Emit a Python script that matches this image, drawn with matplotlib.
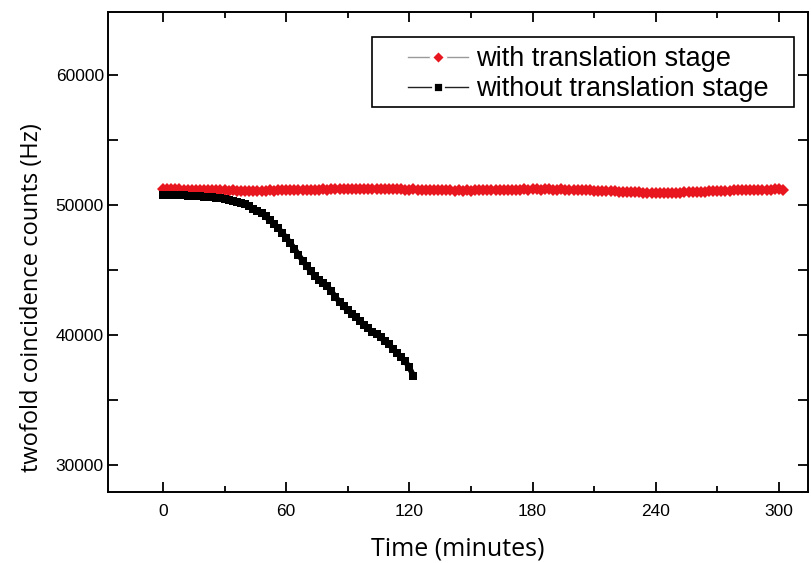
import matplotlib
matplotlib.use("Agg")
import matplotlib.pyplot as plt
from matplotlib.lines import Line2D
from matplotlib.patches import Rectangle
from matplotlib.ticker import MultipleLocator
import numpy as np

# ---- data ----
t_with = list(range(0, 304, 2))
counts_with = [
    51240, 51220, 51230, 51200, 51210, 51180, 51190, 51170, 51160, 51170,
    51150, 51140, 51150, 51130, 51120, 51130, 51110, 51120, 51100, 51110,
    51100, 51110, 51090, 51100, 51110, 51100, 51120, 51110, 51130, 51120,
    51140, 51130, 51150, 51160, 51150, 51170, 51180, 51170, 51190, 51200,
    51190, 51210, 51220, 51200, 51230, 51240, 51220, 51250, 51240, 51260,
    51250, 51240, 51260, 51230, 51240, 51220, 51230, 51200, 51210, 51190,
    51180, 51200, 51170, 51160, 51180, 51150, 51140, 51160, 51130, 51120,
    51140, 51110, 51130, 51100, 51120, 51110, 51130, 51120, 51140, 51130,
    51150, 51160, 51140, 51170, 51180, 51160, 51190, 51180, 51200, 51190,
    51210, 51200, 51190, 51210, 51200, 51190, 51180, 51200, 51190, 51170,
    51160, 51170, 51150, 51140, 51120, 51110, 51090, 51080, 51060, 51050,
    51040, 51030, 51010, 51000, 50990, 50980, 50970, 50960, 50950, 50960,
    50950, 50940, 50950, 50940, 50950, 50960, 50950, 50970, 50980, 50990,
    51000, 51010, 51020, 51040, 51050, 51070, 51080, 51090, 51110, 51120,
    51130, 51140, 51150, 51160, 51170, 51180, 51180, 51190, 51190, 51200,
    51200, 51190,
]

t_without = list(range(0, 124, 2))
counts_without = [
    50770, 50790, 50760, 50780, 50750, 50740, 50730, 50700, 50690, 50660,
    50640, 50620, 50580, 50560, 50540, 50470, 50420, 50340, 50260, 50180,
    50060, 49900, 49720, 49540, 49360, 49120, 48830, 48530, 48240, 47870,
    47480, 47080, 46640, 46180, 45720, 45320, 44920, 44540, 44220, 43980,
    43740, 43380, 42920, 42560, 42200, 41900, 41620, 41380, 41080, 40800,
    40500, 40260, 40060, 39820, 39520, 39280, 38960, 38620, 38320, 37980,
    37500, 36850,
]

x_ticks = [0, 60, 120, 180, 240, 300]
y_ticks = [30000, 40000, 50000, 60000]
label_with = "with translation stage"
label_without = "without translation stage"

RED = "#e8161e"
BLACK = "#000000"

W, H = 811, 563
fig = plt.figure(figsize=(W/100, H/100), dpi=100)
ax = fig.add_axes([108/W, 1-492/H, (808-108)/W, (492-12)/H])

ax.plot(t_with, counts_with, linestyle="-", linewidth=4.0, marker="D", markersize=6.3,
        color=RED, markeredgewidth=0, zorder=3)
ax.plot(t_without, counts_without, linestyle="-", linewidth=4.0, marker="s",
        markersize=6.0, color=BLACK, markeredgewidth=0, zorder=4)

ax.set_xlim(-26.8, 314.2)
ax.set_ylim(27920, 64850)
ax.set_xticks(x_ticks)
ax.set_yticks(y_ticks)
ax.xaxis.set_minor_locator(MultipleLocator(30))
ax.yaxis.set_minor_locator(MultipleLocator(5000))

for s in ax.spines.values():
    s.set_linewidth(1.4)

ax.tick_params(which="both", direction="in", top=True, right=True, width=1.3)
ax.tick_params(which="major", length=7)
ax.tick_params(axis="x", which="minor", length=4)
ax.tick_params(axis="y", which="minor", length=7)
ax.tick_params(axis="x", which="major", labelsize=12.5, pad=9)
ax.tick_params(axis="y", which="major", labelsize=12.5, pad=3)
for lab in ax.get_xticklabels() + ax.get_yticklabels():
    lab.set_fontfamily("Liberation Sans")

ax.set_xlabel("Time (minutes)", fontsize=18, family="Open Sans", labelpad=12)
ax.set_ylabel("twofold coincidence counts (Hz)", fontsize=17, family="Open Sans")
ax.yaxis.set_label_coords(-(108-44)/700, (492-298)/480)

handles = [
    Line2D([], [], color="#999999", linewidth=1.0, marker="D", markersize=7.5,
           markerfacecolor=RED, markeredgecolor="white", markeredgewidth=2.0),
    Line2D([], [], color="#222222", linewidth=1.0, marker="s", markersize=7.5,
           markerfacecolor=BLACK, markeredgecolor="white", markeredgewidth=2.0),
]
leg = ax.legend(handles, [label_with, label_without], loc="upper left",
                bbox_to_anchor=((408-108)/700, (492-46)/480), borderaxespad=0,
                frameon=False, handlelength=2.2,
                handletextpad=0.3, borderpad=0.0, labelspacing=0.15,
                prop={"family": "Liberation Sans", "size": 19.5})

# legend box
box = Rectangle((372/W, 1-107/H), (794-372)/W, (107-37)/H, transform=fig.transFigure,
                fill=True, facecolor="white", edgecolor="black", linewidth=1.2, zorder=5)
ax.add_patch(box)
box.set_clip_on(False)
leg.set_zorder(6)

fig.savefig("out.png", dpi=100)
